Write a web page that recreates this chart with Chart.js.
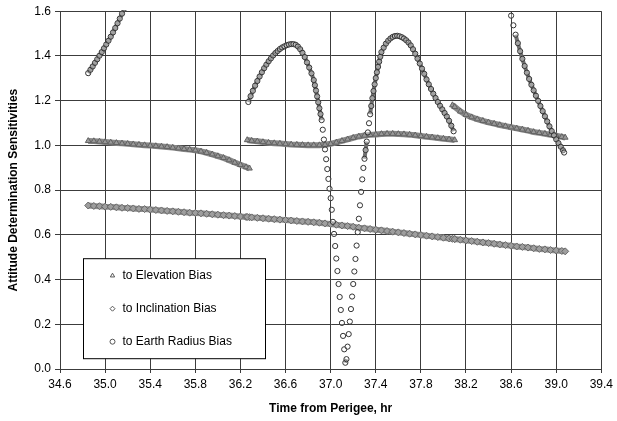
<!DOCTYPE html>
<html>
<head>
<meta charset="utf-8">
<script src="https://cdn.jsdelivr.net/npm/chart.js@4.4.1/dist/chart.umd.min.js"></script>
<style>
html,body{margin:0;padding:0;background:#fff;}
#wrap{position:relative;width:617px;height:421px;}
</style>
</head>
<body>
<div id="wrap"><canvas id="chart"></canvas></div>
<script>

// ---- data (time in hr, sensitivity) ----
// three passes; the elevation / inclination bands share their time stamps
const bandTime1 = [34.85,34.90,34.95,35.00,35.05,35.10,35.15,35.20,35.25,35.30,35.35,35.40,35.45,35.50,35.55,35.60,35.65,35.70,35.75,35.80,35.85,35.90,35.95,36.00,36.05,36.10,36.15,36.20,36.25,36.28]
const bandTime2 = [36.26,36.30,36.35,36.40,36.45,36.50,36.55,36.60,36.65,36.70,36.75,36.80,36.85,36.90,36.95,37.00,37.05,37.10,37.15,37.20,37.25,37.30,37.35,37.40,37.45,37.50,37.55,37.60,37.65,37.70,37.75,37.80,37.85,37.90,37.95,38.00,38.05,38.10]
const bandTime3 = [38.08,38.10,38.15,38.20,38.25,38.30,38.35,38.40,38.45,38.50,38.55,38.60,38.65,38.70,38.75,38.80,38.85,38.90,38.95,39.00,39.05,39.08]

const elevation1 = [1.020,1.019,1.017,1.015,1.013,1.011,1.009,1.007,1.005,1.003,1.001,0.999,0.997,0.995,0.993,0.990,0.987,0.984,0.981,0.978,0.973,0.967,0.960,0.952,0.944,0.934,0.923,0.913,0.903,0.897]
const elevation2 = [1.024,1.021,1.018,1.015,1.012,1.010,1.008,1.006,1.004,1.003,1.002,1.001,1.001,1.001,1.003,1.007,1.013,1.020,1.027,1.034,1.040,1.044,1.047,1.049,1.051,1.052,1.052,1.051,1.050,1.048,1.045,1.042,1.039,1.036,1.033,1.030,1.027,1.024]
const elevation3 = [1.180,1.172,1.152,1.137,1.126,1.117,1.110,1.103,1.097,1.091,1.086,1.081,1.076,1.071,1.066,1.060,1.056,1.052,1.047,1.043,1.038,1.035]

const inclination1 = [0.731,0.729,0.728,0.726,0.725,0.723,0.721,0.720,0.718,0.716,0.715,0.713,0.711,0.709,0.707,0.705,0.703,0.701,0.699,0.698,0.696,0.694,0.692,0.690,0.688,0.686,0.684,0.682,0.680,0.679]
const inclination2 = [0.680,0.678,0.676,0.674,0.672,0.670,0.668,0.666,0.664,0.662,0.660,0.658,0.656,0.654,0.651,0.648,0.645,0.642,0.639,0.636,0.632,0.629,0.626,0.623,0.620,0.617,0.614,0.611,0.608,0.605,0.602,0.599,0.596,0.593,0.590,0.587,0.584,0.581]
const inclination3 = [0.582,0.581,0.578,0.575,0.572,0.569,0.566,0.563,0.560,0.557,0.554,0.551,0.548,0.546,0.543,0.540,0.537,0.535,0.532,0.530,0.528,0.526]

// earth radius curve, only the parts that are on scale
const radiusTime1 = [34.85,34.87,34.89,34.91,34.93,34.95,34.97,34.99,35.01,35.03,35.05,35.07,35.09,35.11,35.13,35.15,35.17]
const radius1 = [1.323,1.338,1.353,1.369,1.385,1.401,1.417,1.434,1.451,1.468,1.486,1.505,1.525,1.546,1.567,1.589,1.612]

const radiusTime2 = [36.27,36.29,36.31,36.33,36.35,36.37,36.39,36.41,36.43,36.45,36.47,36.49,36.51,36.53,36.55,36.57,36.59,36.61,36.63,36.65,36.67,36.69,36.71,36.73,36.75,36.77,36.79,36.81,36.83,36.85,
  36.86,36.87,36.88,36.89,36.90,36.91,36.92,36.93,36.94,36.95,36.96,36.97,36.98,36.99,37.00,37.01,37.02,37.03,37.04,37.05,37.06,37.07,37.08,37.09,37.10,37.11,37.12,37.13,
  37.14,37.15,37.16,37.17,37.18,37.19,37.20,37.21,37.22,37.23,37.24,37.25,37.26,37.27,37.28,37.29,37.30,37.31,37.32,37.33,37.34,37.35,37.36,37.37,37.38,37.39,37.40,37.41,37.42,37.43,37.44,37.45,
  37.47,37.49,37.51,37.53,37.55,37.57,37.59,37.61,37.63,37.65,37.67,37.69,37.71,37.73,37.75,37.77,37.79,37.81,37.83,37.85,37.87,37.89,37.91,37.93,37.95,37.97,37.99,38.01,38.03,38.05,38.07,38.09]
const radius2 = [1.194,1.220,1.244,1.267,1.288,1.308,1.327,1.345,1.361,1.376,1.389,1.402,1.413,1.422,1.431,1.438,1.443,1.448,1.451,1.453,1.453,1.450,1.442,1.430,1.414,1.395,1.371,1.348,1.322,1.292,
  1.269,1.245,1.219,1.193,1.166,1.140,1.113,1.070,1.026,0.982,0.938,0.894,0.850,0.806,0.764,0.712,0.658,0.604,0.550,0.494,0.438,0.380,0.322,0.264,0.206,0.148,0.088,0.028,
  0.044,0.100,0.156,0.212,0.268,0.324,0.380,0.436,0.492,0.552,0.612,0.672,0.732,0.792,0.848,0.899,0.940,0.979,1.017,1.058,1.099,1.139,1.176,1.211,1.243,1.273,1.301,1.327,1.351,1.374,1.396,1.417,
  1.437,1.455,1.468,1.478,1.485,1.489,1.490,1.488,1.484,1.478,1.470,1.460,1.447,1.430,1.410,1.388,1.366,1.343,1.320,1.295,1.273,1.252,1.231,1.212,1.194,1.177,1.161,1.145,1.129,1.110,1.088,1.063]

const radiusTime3 = [38.58,38.60,38.62,38.64,38.66,38.68,38.70,38.72,38.74,38.76,38.78,38.80,38.82,38.84,38.86,38.88,38.90,38.92,38.94,38.96,38.98,39.00,39.02,39.04,39.06,39.07]
const radius3 = [1.622,1.580,1.537,1.495,1.457,1.421,1.387,1.355,1.325,1.297,1.271,1.246,1.222,1.199,1.176,1.153,1.130,1.107,1.085,1.064,1.045,1.027,1.010,0.994,0.978,0.968]

const seriesLabels = ['to Elevation Bias','to Inclination Bias','to Earth Radius Bias']
const xTicks = {min:34.6, max:39.4, step:0.4}
const yTicks = {min:0, max:1.6, step:0.2}

// ---- helpers ----
function pairs(times, values){
  return times.map((t,i)=>({x:t, y:values[i]}))
}
// a null point between passes so the band is broken there
function joinPasses(){
  let out = []
  Array.from(arguments).forEach((seg,i)=>{
    if(i>0) out.push({x:seg[0].x, y:null})
    out = out.concat(seg)
  })
  return out
}

Chart.defaults.font.family = '"Liberation Sans", Arial, sans-serif'
Chart.defaults.font.size = 12
Chart.defaults.color = '#000'

// legend drawn inside the plot, like the original
const insideLegend = {
  id:'insideLegend',
  afterDatasetsDraw(chart){
    const ctx = chart.ctx
    const area = chart.chartArea
    const bx = area.left + 23.5, by = area.top + 247.5, bw = 182, bh = 100
    ctx.save()
    ctx.fillStyle = '#fff'
    ctx.fillRect(bx, by, bw, bh)
    ctx.strokeStyle = '#000'
    ctx.lineWidth = 1
    ctx.strokeRect(bx, by, bw, bh)
    ctx.font = '12px "Liberation Sans", Arial, sans-serif'
    ctx.textBaseline = 'middle'
    chart.data.datasets.forEach((ds,i)=>{
      const y = by + 17 + i*33
      ctx.strokeStyle = '#555'
      ctx.fillStyle = '#fff'
      Chart.helpers.drawPoint(ctx, {pointStyle:ds.pointStyle, radius:2.5, borderWidth:1, rotation:0}, bx + 29, y)
      ctx.fillStyle = '#000'
      ctx.fillText(ds.label, bx + 39, y)
    })
    ctx.restore()
  }
}

const hideLongSegments = (color)=> (c)=>{
  const d = Math.hypot(c.p1.x - c.p0.x, c.p1.y - c.p0.y)
  return d > 9 ? 'rgba(0,0,0,0)' : color
}

new Chart(document.getElementById('chart'),{
  type:'line',
  data:{
    datasets:[
      {
        label:seriesLabels[0],
        data:joinPasses(pairs(bandTime1,elevation1),pairs(bandTime2,elevation2),pairs(bandTime3,elevation3)),
        pointStyle:'triangle', pointRadius:3.3, pointBackgroundColor:'#999', pointBorderColor:'#626262', pointBorderWidth:1,
        borderColor:'#878787', borderWidth:6, tension:0, spanGaps:false, order:2, clip:1
      },
      {
        label:seriesLabels[1],
        data:joinPasses(pairs(bandTime1,inclination1),pairs(bandTime2,inclination2),pairs(bandTime3,inclination3)),
        pointStyle:'rectRot', pointRadius:3.5, pointBackgroundColor:'#9e9e9e', pointBorderColor:'#686868', pointBorderWidth:1,
        borderColor:'#8f8f8f', borderWidth:6, tension:0, spanGaps:false, order:3, clip:1
      },
      {
        label:seriesLabels[2],
        data:joinPasses(pairs(radiusTime1,radius1),pairs(radiusTime2,radius2),pairs(radiusTime3,radius3)),
        pointStyle:'circle', pointRadius:2.6, pointBackgroundColor:'rgba(255,255,255,0.35)', pointBorderColor:'#333', pointBorderWidth:1,
        borderColor:'#707070', borderWidth:4, tension:0, spanGaps:false, order:1, clip:1,
        segment:{borderColor:hideLongSegments('#707070')}
      }
    ]
  },
  options:{
    responsive:true,
    maintainAspectRatio:false,
    animation:false,
    events:[],
    layout:{padding:{top:8,right:14,bottom:0,left:0}},
    plugins:{legend:{display:false},tooltip:{enabled:false}},
    scales:{
      x:{
        type:'linear', min:xTicks.min, max:xTicks.max,
        ticks:{stepSize:xTicks.step, autoSkip:false, maxRotation:0, padding:4, color:'#000', callback:v=>v.toFixed(1)},
        grid:{color:'#3c3c3c', lineWidth:1, tickLength:4, tickColor:'#3c3c3c'},
        border:{color:'#3c3c3c'},
        title:{display:true, text:'Time from Perigee, hr', color:'#000', font:{size:12, weight:'bold'}, padding:{top:0,bottom:5}},
        afterFit:s=>{s.height = 52}
      },
      y:{
        min:yTicks.min, max:yTicks.max,
        ticks:{stepSize:yTicks.step, padding:4, color:'#000', callback:v=>v.toFixed(1)},
        grid:{color:'#3c3c3c', lineWidth:1, tickLength:5, tickColor:'#3c3c3c'},
        border:{color:'#3c3c3c'},
        title:{display:true, text:'Attitude Determination Sensitivities', color:'#000', font:{size:12, weight:'bold'}, padding:{top:6,bottom:0}},
        afterFit:s=>{s.width = 60}
      }
    }
  },
  plugins:[insideLegend]
})
</script>
</body>
</html>
